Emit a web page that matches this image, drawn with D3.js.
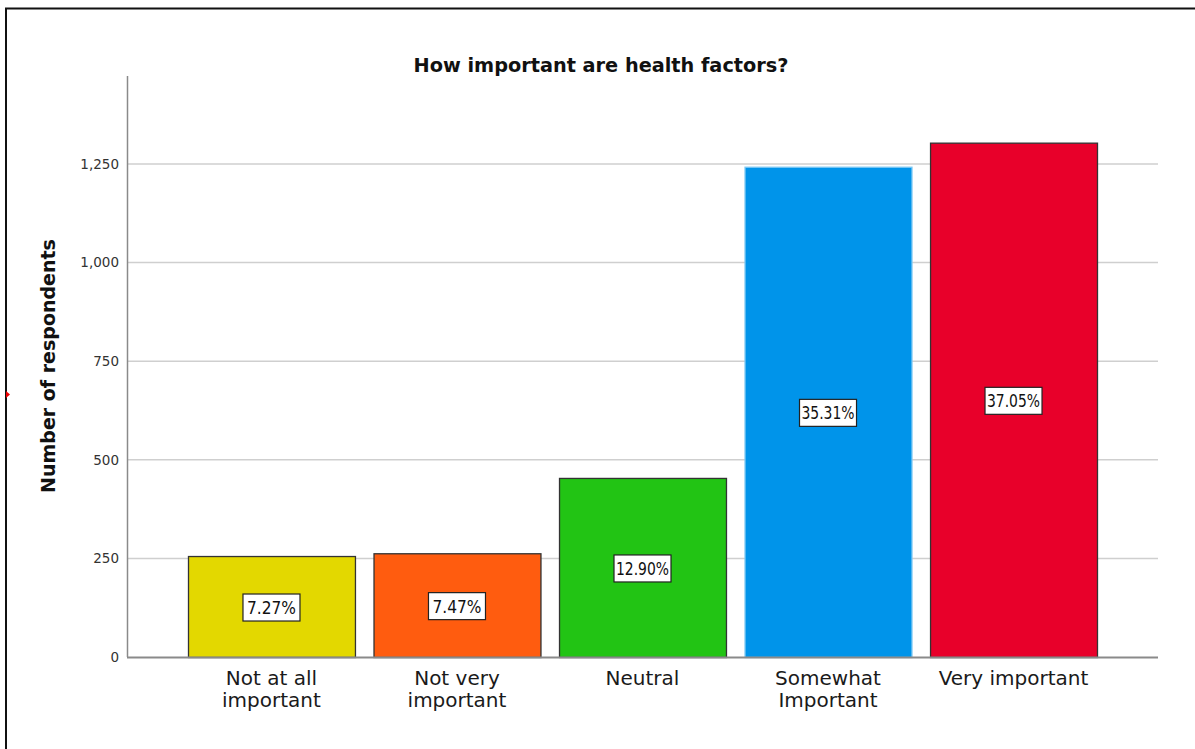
<!DOCTYPE html>
<html>
<head>
<meta charset="utf-8">
<script src="https://cdn.jsdelivr.net/npm/d3@7"></script>
<style>
  html, body { margin: 0; padding: 0; background: #fff; }
  svg { display: block; }
</style>
</head>
<body>
<svg id="chart" width="1195" height="749"></svg>
<script>
// Survey responses: how important are health factors?
const categories = [
  ["Not at all", "important"],
  ["Not very", "important"],
  ["Neutral"],
  ["Somewhat", "Important"],
  ["Very important"]
];
const counts = [256, 263, 454, 1243, 1304];
const barColors = ["#e3d800", "#ff5c0f", "#22c414", "#0094ea", "#e8002a"];
const barStrokes = ["#333", "#333", "#333", "#7cc8f4", "#333"];
const yTicks = [0, 250, 500, 750, 1000, 1250];
const yMax = 1473;

const total = d3.sum(counts);
const pctLabels = counts.map(c => (c / total * 100).toFixed(2) + "%");

const svg = d3.select("#chart");
const W = 1195, H = 749;
const margin = { left: 127, right: 37, top: 76, bottom: 92 };
const plotW = W - margin.left - margin.right;
const plotH = H - margin.top - margin.bottom;

// Outer frame (left and top edges)
svg.append("path")
  .attr("d", `M6,${H} L6,8.5 L${W},8.5`)
  .attr("fill", "none")
  .attr("stroke", "#111")
  .attr("stroke-width", 2);

const g = svg.append("g").attr("transform", `translate(${margin.left},${margin.top})`);

const x = d3.scaleBand()
  .domain(d3.range(categories.length))
  .range([61, 970])
  .paddingInner(0.1)
  .paddingOuter(0);

const y = d3.scaleLinear().domain([0, yMax]).range([plotH, 0]);

// Gridlines
g.append("g")
  .selectAll("line")
  .data(yTicks.filter(t => t > 0))
  .join("line")
  .attr("x1", 0).attr("x2", plotW)
  .attr("y1", d => y(d)).attr("y2", d => y(d))
  .attr("stroke", "#cfcfcf")
  .attr("stroke-width", 1.5);

// Y axis
const yAxis = d3.axisLeft(y)
  .tickValues(yTicks)
  .tickSize(0)
  .tickPadding(8)
  .tickFormat(d3.format(","));
const yg = g.append("g").call(yAxis);
yg.select(".domain").remove();
yg.selectAll("text")
  .attr("font-family", "'DejaVu Sans', sans-serif")
  .attr("font-size", 13.5)
  .attr("fill", "#333");

// Bars
g.append("g")
  .selectAll("rect")
  .data(counts)
  .join("rect")
  .attr("x", (d, i) => x(i) + 0.5)
  .attr("y", d => y(d) + 0.5)
  .attr("width", x.bandwidth())
  .attr("height", d => y(0) - y(d))
  .attr("fill", (d, i) => barColors[i])
  .attr("stroke", (d, i) => barStrokes[i])
  .attr("stroke-width", 1.3);

// Axis lines
g.append("line")
  .attr("x1", 0.5).attr("x2", 0.5)
  .attr("y1", 0).attr("y2", plotH)
  .attr("stroke", "#8a8a8a").attr("stroke-width", 1.5);
g.append("line")
  .attr("x1", 0).attr("x2", plotW)
  .attr("y1", plotH + 0.5).attr("y2", plotH + 0.5)
  .attr("stroke", "#8a8a8a").attr("stroke-width", 2);

// Percentage labels in the middle of each bar
const labels = g.append("g")
  .selectAll("g")
  .data(counts)
  .join("g")
  .attr("transform", (d, i) => `translate(${x(i) + x.bandwidth() / 2},${(y(d) + y(0)) / 2 + 1})`);
labels.append("rect")
  .attr("x", -28.5).attr("y", -13.5)
  .attr("width", 57).attr("height", 27)
  .attr("fill", "#fff")
  .attr("stroke", "#222")
  .attr("stroke-width", 1.2);
labels.append("text")
  .attr("text-anchor", "middle")
  .attr("dy", "0.36em")
  .attr("font-family", "'DejaVu Sans Condensed', 'DejaVu Sans', sans-serif")
  .attr("font-size", 18)
  .attr("textLength", (d, i) => pctLabels[i].length > 5 ? 53 : 49)
  .attr("lengthAdjust", "spacingAndGlyphs")
  .attr("fill", "#111")
  .text((d, i) => pctLabels[i]);

// Category labels
const catG = g.append("g")
  .selectAll("text")
  .data(categories)
  .join("text")
  .attr("x", (d, i) => x(i) + x.bandwidth() / 2)
  .attr("y", plotH + 28)
  .attr("text-anchor", "middle")
  .attr("font-family", "'DejaVu Sans', sans-serif")
  .attr("font-size", 20)
  .attr("fill", "#1a1a1a");
catG.selectAll("tspan")
  .data(d => d)
  .join("tspan")
  .attr("x", function () { return d3.select(this.parentNode).attr("x"); })
  .attr("dy", (d, j) => j === 0 ? 0 : 22)
  .text(d => d);

// Title
svg.append("text")
  .attr("x", 601)
  .attr("y", 72)
  .attr("text-anchor", "middle")
  .attr("font-family", "'DejaVu Sans', sans-serif")
  .attr("font-weight", "bold")
  .attr("font-size", 19.3)
  .attr("fill", "#111")
  .text("How important are health factors?");

// Y axis title
svg.append("text")
  .attr("transform", "translate(55,366) rotate(-90)")
  .attr("text-anchor", "middle")
  .attr("font-family", "'DejaVu Sans', sans-serif")
  .attr("font-weight", "bold")
  .attr("font-size", 19)
  .attr("fill", "#111")
  .text("Number of respondents");

// Small red marker on the frame edge
svg.append("path")
  .attr("d", "M6,391 L10,394.5 L6,398 Z")
  .attr("fill", "#e00");
</script>
</body>
</html>
